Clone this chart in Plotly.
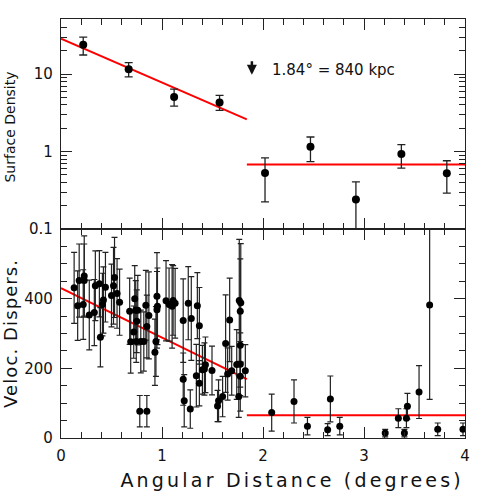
import plotly.graph_objects as go

# ---------------- data ----------------
# Top panel: surface density (log scale)
sd_x = [0.22, 0.67, 1.12, 1.57, 2.02, 2.47, 2.92, 3.37, 3.82]
sd_y = [23.9, 11.5, 5.05, 4.3, 0.53, 1.15, 0.24, 0.93, 0.525]
sd_err_hi = [6.1, 2.5, 1.35, 1.0, 0.30, 0.39, 0.165, 0.30, 0.235]
sd_err_lo = [6.3, 2.3, 1.19, 0.9, 0.306, 0.41, 0.14, 0.32, 0.235]

# Fits for surface density
sd_fit_in_x = [0.0, 1.84]
sd_fit_in_y = [28.5, 2.6]
sd_fit_out_x = [1.84, 4.0]
sd_fit_out_y = [0.68, 0.68]

# Bottom panel: velocity dispersion
vd_x = [0.13, 0.165, 0.18, 0.22, 0.23, 0.23, 0.28, 0.33, 0.34, 0.38,
        0.39, 0.41, 0.42, 0.44, 0.50, 0.52, 0.53, 0.555, 0.58, 0.68,
        0.69, 0.72, 0.73, 0.74, 0.75, 0.745, 0.76, 0.78, 0.79, 0.82,
        0.84, 0.85, 0.85, 0.87, 0.93, 0.94, 0.95, 0.95, 0.955, 1.04,
        1.07, 1.10, 1.11, 1.13, 1.21, 1.21, 1.22, 1.26, 1.28, 1.29,
        1.35, 1.34, 1.37, 1.37, 1.40, 1.43, 1.42, 1.495, 1.55, 1.56,
        1.60, 1.63, 1.67, 1.65, 1.69, 1.74, 1.76, 1.765, 1.78, 1.775,
        1.775, 1.775, 1.775, 1.825,
        2.086, 2.307, 2.44, 2.64, 2.667, 2.76, 3.21, 3.34, 3.40, 3.42,
        3.43, 3.545, 3.65, 3.73, 3.98]
vd_y = [431, 380, 452, 383, 465, 452, 353, 360, 437, 443,
        289, 383, 396, 433, 409, 437, 461, 415, 390, 364,
        276, 304, 400, 367, 335, 277, 367, 77, 277, 277,
        381, 77, 320, 352, 246, 277, 368, 407, 378, 394,
        383, 378, 395, 387, 337, 169, 107, 387, 83, 343,
        380, 179, 322, 157, 196, 210, 198, 194, 92, 107,
        119, 271, 339, 184, 193, 211, 119, 395, 388, 364,
        266, 212, 177, 193,
        73, 105, 34, 24, 112, 34, 14, 57, 14, 57,
        91, 132, 382, 25, 25]
vd_err = [102, 100, 105, 100, 115, 105, 100, 95, 100, 95,
          85, 90, 95, 100, 90, 110, 115, 100, 95, 95,
          90, 75, 95, 85, 90, 60, 100, 45, 90, 85,
          100, 45, 90, 125, 95, 100, 110, 125, 110, 115,
          105, 120, 100, 100, 120, 75, 75, 105, 55, 120,
          95, 90, 110, 65, 70, 80, 75, 70, 45, 60,
          58, 140, 120, 75, 70, 100, 60, 175, 170, 150,
          120, 90, 100, 75,
          53, 62, 25, 17, 66, 25, 11, 27, 11, 27,
          37, 76, 271, 18, 18]

vd_fit_in_x = [0.0, 1.84]
vd_fit_in_y = [430, 169]
vd_fit_out_x = [1.84, 4.0]
vd_fit_out_y = [65, 65]

vd_tickvals = [0, 200, 400]
sd_tickvals = [0.1, 1, 10]
sd_ticktext = ["0.1", "1", "10"]

# ---------------- figure ----------------
FONT = "DejaVu Sans"
AX = "#222222"
TXT = "#111111"
fig = go.Figure()

fig.add_trace(go.Scatter(x=sd_fit_in_x, y=sd_fit_in_y, mode="lines",
                         line=dict(color="#ff0000", width=2), xaxis="x2", yaxis="y2",
                         showlegend=False, hoverinfo="skip"))
fig.add_trace(go.Scatter(x=sd_fit_out_x, y=sd_fit_out_y, mode="lines",
                         line=dict(color="#ff0000", width=2), xaxis="x2", yaxis="y2",
                         showlegend=False, hoverinfo="skip"))
fig.add_trace(go.Scatter(x=sd_x, y=sd_y, mode="markers",
                         marker=dict(color="black", size=8),
                         error_y=dict(type="data", symmetric=False, array=sd_err_hi,
                                      arrayminus=sd_err_lo, color=AX, thickness=1.3, width=4),
                         xaxis="x2", yaxis="y2", showlegend=False))

fig.add_trace(go.Scatter(x=vd_fit_in_x, y=vd_fit_in_y, mode="lines",
                         line=dict(color="#ff0000", width=2), xaxis="x", yaxis="y",
                         showlegend=False, hoverinfo="skip"))
fig.add_trace(go.Scatter(x=vd_fit_out_x, y=vd_fit_out_y, mode="lines",
                         line=dict(color="#ff0000", width=2), xaxis="x", yaxis="y",
                         showlegend=False, hoverinfo="skip"))
fig.add_trace(go.Scatter(x=vd_x, y=vd_y, mode="markers",
                         marker=dict(color="black", size=7),
                         error_y=dict(type="data", array=vd_err, color=AX,
                                      thickness=1.2, width=3),
                         xaxis="x", yaxis="y", showlegend=False))

split = 0.4988
common = dict(showline=True, linecolor=AX, linewidth=1.3, mirror="ticks",
              ticks="inside", ticklen=11, tickwidth=1.3, tickcolor=AX,
              showgrid=False, zeroline=False,
              tickfont=dict(family=FONT, size=15, color=TXT))

fig.update_layout(
    width=491, height=491, autosize=False,
    paper_bgcolor="white", plot_bgcolor="white",
    margin=dict(l=61, r=26, t=19, b=53),
    font=dict(family=FONT, color=TXT),
    xaxis=dict(domain=[0, 1], range=[0, 4], dtick=1, anchor="y",
               minor=dict(ticks="inside", ticklen=6, dtick=0.2, tickcolor=AX, tickwidth=1.2),
               ticklabelstandoff=4, **common),
    yaxis=dict(domain=[0, split], range=[0, 600], tickvals=vd_tickvals, anchor="x",
               minor=dict(ticks="inside", ticklen=6, dtick=50, tickcolor=AX, tickwidth=1.2),
               ticklabelstandoff=4, **common),
    xaxis2=dict(domain=[0, 1], range=[0, 4], dtick=1, anchor="y2", showticklabels=False,
                minor=dict(ticks="inside", ticklen=6, dtick=0.2, tickcolor=AX, tickwidth=1.2),
                **common),
    yaxis2=dict(domain=[split, 1], type="log", range=[-1, 1.71],
                tickvals=sd_tickvals, ticktext=sd_ticktext, anchor="x2",
                minor=dict(ticks="inside", ticklen=6, dtick="D1", tickcolor=AX, tickwidth=1.2),
                ticklabelstandoff=4, **common),
)

fig.add_annotation(text="Angular Distance (degrees)", xref="paper", yref="paper",
                   x=0.572, y=0, yshift=-42, showarrow=False, xanchor="center", yanchor="middle",
                   font=dict(family=FONT, size=19, color=TXT))
fig.add_annotation(text="Veloc. Dispers.", xref="paper", yref="paper", textangle=-90,
                   x=0, xshift=-50, y=0.249, showarrow=False, xanchor="center", yanchor="middle",
                   font=dict(family=FONT, size=18, color=TXT))
fig.add_annotation(text="Surface Density", xref="paper", yref="paper", textangle=-90,
                   x=0, xshift=-51, y=0.741, showarrow=False, xanchor="center", yanchor="middle",
                   font=dict(family=FONT, size=14, color=TXT))
fig.add_annotation(text="", xref="x2", yref="y2", x=1.89, y=0.99, ax=0, ay=-15,
                   showarrow=True, arrowhead=2, arrowsize=0.8, arrowwidth=2.5, arrowcolor=TXT)
fig.add_annotation(text="1.84° = 840 kpc", xref="x2", yref="y2", x=2.07, y=1.05,
                   showarrow=False, xanchor="left", yanchor="middle",
                   font=dict(family=FONT, size=15, color=TXT))

post = """
document.body.style.margin='0';
document.querySelectorAll('text.annotation-text').forEach(function(t){
  var s = t.textContent;
  if (s.indexOf('Angular') === 0) { t.style.letterSpacing = '3.2px'; }
  if (s.indexOf('Veloc') === 0) { t.style.letterSpacing = '1.1px'; }
});
"""
fig.write_html("out.html", config={"displayModeBar": False}, post_script=post)
